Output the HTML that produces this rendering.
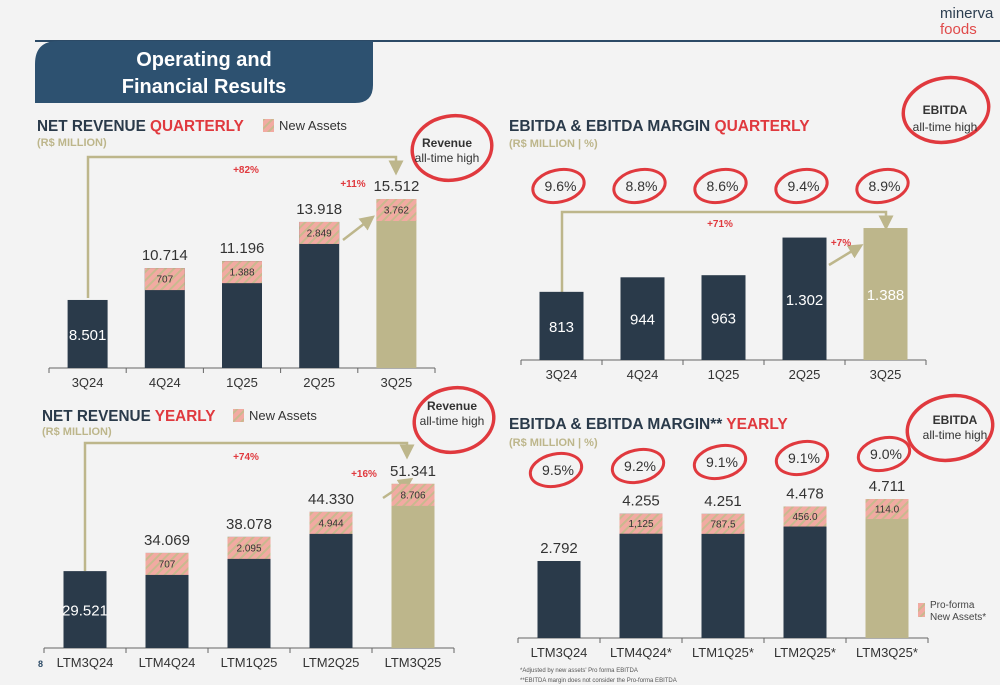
<!DOCTYPE html>
<html><head><meta charset="utf-8"><style>
body{margin:0;background:#f3f3f3}
svg{display:block;font-family:"Liberation Sans",sans-serif}
</style></head><body>
<svg id="s" width="1000" height="685" viewBox="0 0 1000 685" xmlns="http://www.w3.org/2000/svg">
<defs>
<pattern id="hatch" width="6" height="6" patternUnits="userSpaceOnUse" patternTransform="rotate(45)">
<rect width="6" height="6" fill="#f2aaa2"/><rect width="2" height="6" fill="#c9b98e"/>
</pattern>
<marker id="ah" markerWidth="6" markerHeight="6" refX="3" refY="3" orient="auto"><path d="M0,0 L6,3 L0,6 z" fill="#bdb68b"/></marker>
</defs>
<rect width="1000" height="685" fill="#f3f3f3"/>
<line x1="35" y1="41" x2="1000" y2="41" stroke="#2c4a66" stroke-width="2"/>
<path d="M58,41 H373 V85 Q373,103 355,103 H35 V64 Q35,41 58,41 z" fill="#2d5170"/>
<text x="204" y="66" text-anchor="middle" fill="#fff" font-size="20" font-weight="bold">Operating and</text>
<text x="204" y="93" text-anchor="middle" fill="#fff" font-size="20" font-weight="bold">Financial Results</text>
<text x="940" y="18" fill="#2c3e50" font-size="15">minerva</text>
<text x="940" y="34" fill="#e04a4a" font-size="15">foods</text>
<text x="38" y="667" font-size="9" font-weight="bold" fill="#2c4a66">8</text>

<text x="37" y="131" font-size="15.3" font-weight="bold" fill="#2a3a4a">NET REVENUE <tspan fill="#e0393e">QUARTERLY</tspan></text>
<text x="37" y="146" font-size="11" font-weight="bold" fill="#bdb68b">(R$ MILLION)</text>
<rect x="263" y="119" width="11" height="13" fill="url(#hatch)"/>
<text x="279" y="130" font-size="13" fill="#333">New Assets</text>

<text x="509" y="131" font-size="15.5" font-weight="bold" fill="#2a3a4a">EBITDA &amp; EBITDA MARGIN <tspan fill="#e0393e">QUARTERLY</tspan></text>
<text x="509" y="147" font-size="11" font-weight="bold" fill="#bdb68b">(R$ MILLION | %)</text>

<text x="42" y="421" font-size="15.3" font-weight="bold" fill="#2a3a4a">NET REVENUE <tspan fill="#e0393e">YEARLY</tspan></text>
<text x="42" y="435" font-size="11" font-weight="bold" fill="#bdb68b">(R$ MILLION)</text>
<rect x="233" y="409" width="11" height="13" fill="url(#hatch)"/>
<text x="249" y="420" font-size="13" fill="#333">New Assets</text>

<text x="509" y="429" font-size="15.5" font-weight="bold" fill="#2a3a4a">EBITDA &amp; EBITDA MARGIN** <tspan fill="#e0393e">YEARLY</tspan></text>
<text x="509" y="446" font-size="11" font-weight="bold" fill="#bdb68b">(R$ MILLION | %)</text>
<rect x="918" y="603" width="7" height="14" fill="url(#hatch)"/>
<text x="930" y="608" font-size="10" fill="#444">Pro-forma</text>
<text x="930" y="620" font-size="10" fill="#444">New Assets*</text>
<text x="520" y="672" font-size="6" fill="#555">*Adjusted by new assets' Pro forma EBITDA</text>
<text x="520" y="682" font-size="6" fill="#555">**EBITDA margin does not consider the Pro-forma EBITDA</text>

<g fill="none" stroke="#bdb68b" stroke-width="2.5">
<path d="M88,298 V157 H396 V168" marker-end="url(#ah)"/>
<path d="M343,240 L369,220" marker-end="url(#ah)"/>
<path d="M562,292 V212 H886 V223" marker-end="url(#ah)"/>
<path d="M829,265 L857,248" marker-end="url(#ah)"/>
<path d="M85,571 V443 H407 V452" marker-end="url(#ah)"/>
<path d="M383,498 L407,482" marker-end="url(#ah)"/>
</g>
<g fill="#e0393e" font-size="10" font-weight="bold" text-anchor="middle">
<text x="246" y="173">+82%</text>
<text x="353" y="187">+11%</text>
<text x="720" y="227">+71%</text>
<text x="841" y="246">+7%</text>
<text x="246" y="460">+74%</text>
<text x="364" y="477">+16%</text>
</g>

<g fill="none" stroke="#e0393e" stroke-width="3.5">
<ellipse cx="452" cy="148" rx="40" ry="32" transform="rotate(-10 452 148)"/>
<ellipse cx="946" cy="110" rx="43" ry="32" transform="rotate(-10 946 110)"/>
<ellipse cx="454" cy="420" rx="40" ry="32" transform="rotate(-10 454 420)"/>
<ellipse cx="950" cy="428" rx="43" ry="32" transform="rotate(-10 950 428)"/>
</g>
<g text-anchor="middle" fill="#333">
<text x="447" y="147" font-size="12" font-weight="bold">Revenue</text>
<text x="447" y="162" font-size="12">all-time high</text>
<text x="945" y="114" font-size="12" font-weight="bold">EBITDA</text>
<text x="945" y="131" font-size="12">all-time high</text>
<text x="452" y="410" font-size="12" font-weight="bold">Revenue</text>
<text x="452" y="425" font-size="12">all-time high</text>
<text x="955" y="424" font-size="12" font-weight="bold">EBITDA</text>
<text x="955" y="439" font-size="12">all-time high</text>
</g>
<g id="charts"></g>
</svg>
<script>
// Chart 1: Net revenue quarterly
const q1Cats = ["3Q24","4Q24","1Q25","2Q25","3Q25"];
const q1Totals = [8501,10714,11196,13918,15512];
const q1New = [0,707,1388,2849,3762];
const q1Labels = ["8.501","10.714","11.196","13.918","15.512"];
const q1NewLabels = ["","707","1.388","2.849","3.762"];
// Chart 2: EBITDA quarterly
const q2Cats = ["3Q24","4Q24","1Q25","2Q25","3Q25"];
const q2Totals = [813,944,963,1302,1388];
const q2New = [0,0,0,0,0];
const q2Labels = ["813","944","963","1.302","1.388"];
const q2NewLabels = ["","","","",""];
const q2Margins = ["9.6%","8.8%","8.6%","9.4%","8.9%"];
// Chart 3: Net revenue yearly
const y1Cats = ["LTM3Q24","LTM4Q24","LTM1Q25","LTM2Q25","LTM3Q25"];
const y1Totals = [29521,34069,38078,44330,51341];
const y1New = [0,707,2095,4944,8706];
const y1Labels = ["29.521","34.069","38.078","44.330","51.341"];
const y1NewLabels = ["","707","2.095","4.944","8.706"];
// Chart 4: EBITDA yearly
const y2Cats = ["LTM3Q24","LTM4Q24*","LTM1Q25*","LTM2Q25*","LTM3Q25*"];
const y2Totals = [2792,4255,4251,4478,4711];
const y2New = [0,1125,787.5,456,114];
const y2Labels = ["2.792","4.255","4.251","4.478","4.711"];
const y2NewLabels = ["","1,125","787.5","456.0","114.0"];
const y2Margins = ["9.5%","9.2%","9.1%","9.1%","9.0%"];

const NS="http://www.w3.org/2000/svg";
const root=document.getElementById('charts');
function mk(tag,attrs,parent,txt){const e=document.createElementNS(NS,tag);for(const k in attrs)e.setAttribute(k,attrs[k]);if(txt!==undefined)e.textContent=txt;(parent||root).appendChild(e);return e;}

function chart(id,cfg,cats,totals,news,labels,newLabels,margins){
  const g=mk('g',{},root);
  
  
  const n=cats.length, step=(cfg.x1-cfg.x0)/n;
  const xc=i=>cfg.x0+step*(i+0.5);
  const y=v=>cfg.base-(v-cfg.dmin)*cfg.k;
  const ax=mk('line',{x1:cfg.x0,x2:cfg.x1,y1:cfg.base,y2:cfg.base,stroke:'#666','stroke-width':1},g);
  
  
  for(let i=0;i<=n;i++){const t=mk('line',{x1:cfg.x0+step*i,x2:cfg.x0+step*i,y1:cfg.base,y2:cfg.base+5,stroke:'#666'},g);
    
    }
  for(let i=0;i<n;i++){
    const last=i===n-1, top=y(totals[i]), x=xc(i)-cfg.bw/2;
    const b=mk('rect',{x:x,y:top,width:cfg.bw,height:cfg.base-top,fill:last?'#bdb68b':'#2a3a4a'},g);
    
    
    if(news[i]>0){
      const h=Math.min(cfg.hh,cfg.base-top);
      const hr=mk('rect',{x:x,y:top,width:cfg.bw,height:h,fill:'url(#hatch)'},g);
      
      
      const nt=mk('text',{x:xc(i),y:top+h/2+3.5,'text-anchor':'middle','font-size':10,fill:'#333'},g,newLabels[i]);
      
      
    }
    const inside=cfg.inside && (i===0 || cfg.inside==='all');
    const vt=mk('text',{x:xc(i),y:inside?(cfg.base+top)/2+6:top-8,'text-anchor':'middle','font-size':15,fill:inside?'#fff':'#333'},g,labels[i]);
    
    
    const ct=mk('text',{x:xc(i),y:cfg.base+19,'text-anchor':'middle','font-size':13,fill:'#333'},g,cats[i]);
    
    
    if(margins){
      const my=cfg.my - i*cfg.mdy, mx=xc(i)-3;
      const c=mk('ellipse',{cx:mx,cy:my,rx:26,ry:16,fill:'none',stroke:'#e0393e','stroke-width':3,transform:`rotate(-12 ${mx} ${my})`},g);
      
      
      const mt=mk('text',{x:mx+2,y:my+5,'text-anchor':'middle','font-size':14,fill:'#333'},g,margins[i]);
      
      
    }
  }
}
chart('net-revenue-quarterly',{x0:49,x1:435,base:368,dmin:3776,k:0.0144,bw:40,hh:22,inside:'first'},q1Cats,q1Totals,q1New,q1Labels,q1NewLabels,null);
chart('ebitda-quarterly',{x0:521,x1:926,base:360,dmin:199,k:0.111,bw:44,hh:22,inside:'all',my:186,mdy:0},q2Cats,q2Totals,q2New,q2Labels,q2NewLabels,q2Margins);
chart('net-revenue-yearly',{x0:44,x1:454,base:648,dmin:10300,k:0.004,bw:43,hh:22,inside:'first'},y1Cats,y1Totals,y1New,y1Labels,y1NewLabels,null);
chart('ebitda-yearly',{x0:518,x1:928,base:638,dmin:408,k:0.0323,bw:43,hh:20,inside:null,my:470,mdy:4},y2Cats,y2Totals,y2New,y2Labels,y2NewLabels,y2Margins);
</script>
</body></html>
